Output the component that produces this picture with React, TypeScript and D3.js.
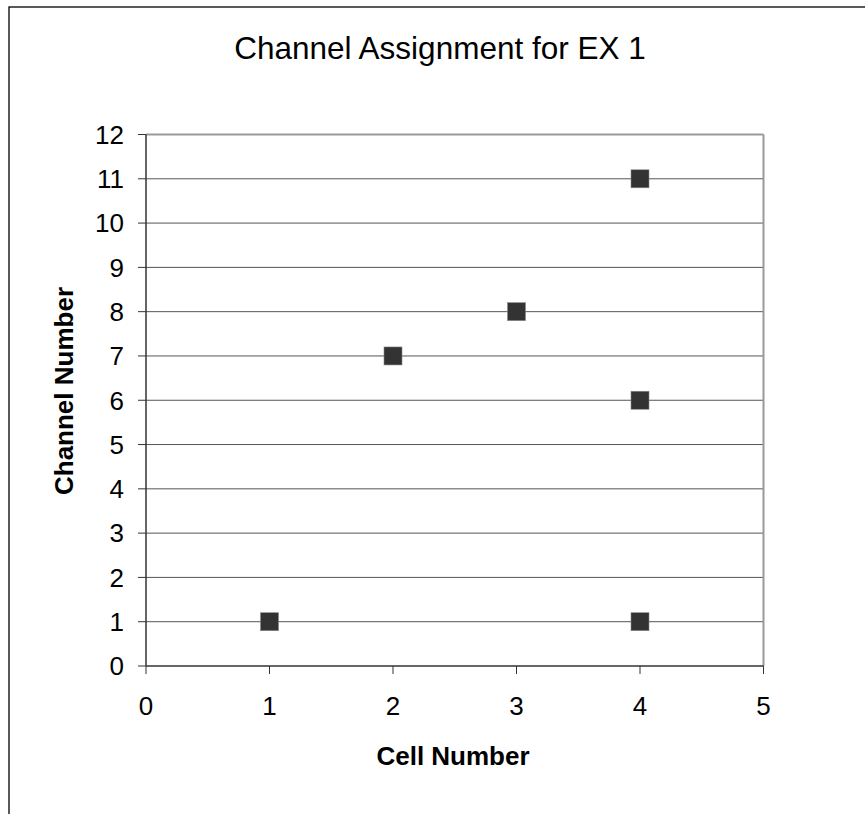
import React from "react";
import * as d3 from "d3";

const cellNumbers = [1, 2, 3, 4, 4, 4];
const channelNumbers = [1, 7, 8, 11, 6, 1];
const xTicks = [0, 1, 2, 3, 4, 5];
const yTicks = [0, 1, 2, 3, 4, 5, 6, 7, 8, 9, 10, 11, 12];
const title = "Channel Assignment for EX 1";
const xLabel = "Cell Number";
const yLabel = "Channel Number";

export default function App() {
  const W = 865, H = 814;
  const left = 146, right = 763.5, top = 134.5, bottom = 666;
  const x = d3.scaleLinear().domain([0, 5]).range([left, right]);
  const y = d3.scaleLinear().domain([0, 12]).range([bottom, top]);
  const font = "Liberation Sans, Arial, sans-serif";
  const ms = 18;
  return (
    <svg width={W} height={H} style={{ position: "absolute", left: 0, top: 0 }}>
      <rect x={0} y={0} width={W} height={H} fill="#fff" />
      <rect x={9} y={7} width={W + 10} height={H + 10} fill="none" stroke="#000" strokeWidth={1.3} />
      <text x={440} y={59} textAnchor="middle" fontFamily={font} fontSize={31.5} fill="#000">{title}</text>
      {yTicks.filter(t => t > 0 && t < 12).map(t => (
        <line key={"g" + t} x1={left} x2={right} y1={y(t)} y2={y(t)} stroke="#555" strokeWidth={1} />
      ))}
      <line x1={left} x2={right} y1={top} y2={top} stroke="#999" strokeWidth={2} />
      <line x1={right} x2={right} y1={top} y2={bottom} stroke="#999" strokeWidth={2} />
      <line x1={left} x2={left} y1={top} y2={bottom} stroke="#333" strokeWidth={1.5} />
      <line x1={left} x2={right} y1={bottom} y2={bottom} stroke="#333" strokeWidth={1.5} />
      {yTicks.map(t => (
        <g key={"y" + t}>
          <line x1={left - 8} x2={left} y1={y(t)} y2={y(t)} stroke="#333" strokeWidth={1} />
          <text x={124} y={y(t) + 9.3} textAnchor="end" fontFamily={font} fontSize={26} fill="#000">{t}</text>
        </g>
      ))}
      {xTicks.map(t => (
        <g key={"x" + t}>
          <line x1={x(t)} x2={x(t)} y1={bottom} y2={bottom + 8} stroke="#333" strokeWidth={1} />
          <text x={x(t)} y={715} textAnchor="middle" fontFamily={font} fontSize={26} fill="#000">{t}</text>
        </g>
      ))}
      {cellNumbers.map((c, i) => (
        <rect key={"p" + i} x={x(c) - ms / 2} y={y(channelNumbers[i]) - ms / 2} width={ms} height={ms}
          fill="#333" stroke="#888" strokeWidth={0.6} />
      ))}
      <text x={453} y={765} textAnchor="middle" fontFamily={font} fontSize={26} fontWeight="bold" fill="#000">{xLabel}</text>
      <text transform={`translate(73,391) rotate(-90)`} textAnchor="middle" fontFamily={font} fontSize={26} fontWeight="bold" fill="#000">{yLabel}</text>
    </svg>
  );
}
